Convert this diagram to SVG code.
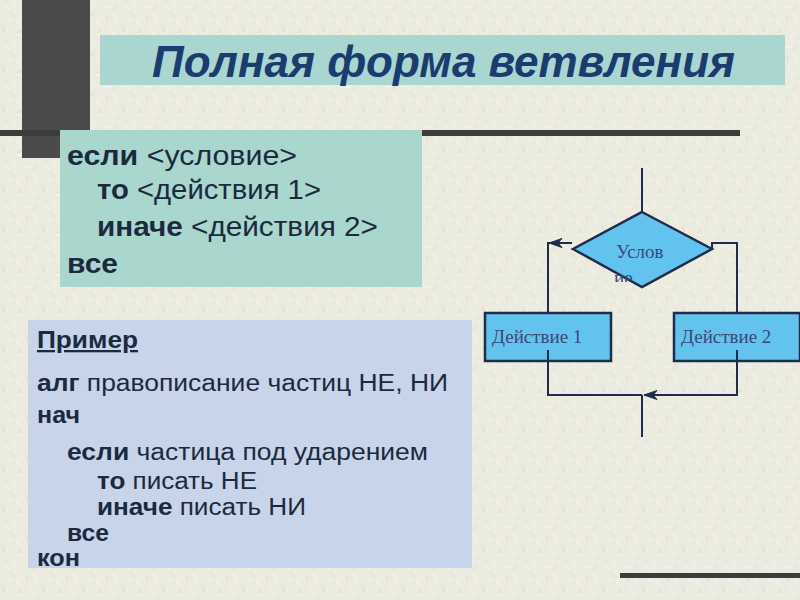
<svg xmlns="http://www.w3.org/2000/svg" width="800" height="600" viewBox="0 0 800 600">
<defs>
<pattern id="tex" width="40" height="40" patternUnits="userSpaceOnUse">
<rect width="40" height="40" fill="#ECEBDF"/>
<g stroke="#F8F8F2" stroke-width="1">
<path d="M3 5l6 4M15 2l-3 7M25 8l8-2M34 14l3 7M6 20l7 1M20 18l-4 6M28 26l6 5M5 33l4-6M16 34l7 2M30 36l6-4"/>
</g>
<g stroke="#DCDACB" stroke-width="1">
<path d="M10 13l5 3M22 30l-5 3M36 4l-4 5M2 26l3 6M26 15l2 6"/>
</g>
</pattern>
<marker id="arr" markerWidth="16" markerHeight="12" refX="14" refY="6" orient="auto" markerUnits="userSpaceOnUse">
<path d="M1 1.5L14 6L1 10.5L5 6Z" fill="#1F2D4A" stroke="#1F2D4A" stroke-width="1" stroke-linejoin="round"/>
</marker>
<clipPath id="cut"><rect x="600" y="262" width="60" height="20"/></clipPath>
<style>
.kw{font-family:"Liberation Sans",Arial,sans-serif;font-weight:bold;fill:#1B2A3E}
.n{font-weight:normal}
.a{font-size:27px}
.b{font-size:23px}
.shape{fill:#62C3EE;stroke:#1F2D4A;stroke-width:2.5}
.lbl{font-family:"Liberation Serif","Times New Roman",serif;font-size:19px;fill:#3A4A7A}
.con{fill:none;stroke:#1F2D4A;stroke-width:2}
</style>
</defs>
<rect width="800" height="600" fill="url(#tex)"/>
<rect x="22" y="0" width="68" height="158" fill="#4A4A4A"/>
<rect x="0" y="130" width="740" height="6" fill="#3C3C3C"/>
<rect x="620" y="573" width="180" height="5" fill="#3C3C3C"/>

<g id="title">
<rect x="100" y="35" width="685" height="50" fill="#A9D6D0"/>
<text x="152" y="77" textLength="583" lengthAdjust="spacingAndGlyphs" font-family="Liberation Sans,Arial,sans-serif" font-weight="bold" font-style="italic" font-size="44" fill="#1A3C6E">Полная форма ветвления</text>
</g>

<g id="syntax">
<rect x="60" y="130" width="362" height="157" fill="#A9D6CD"/>
<text class="kw a" x="67" y="165" textLength="230" lengthAdjust="spacingAndGlyphs">если <tspan class="n">&lt;условие&gt;</tspan></text>
<text class="kw a" x="97" y="199" textLength="224" lengthAdjust="spacingAndGlyphs">то <tspan class="n">&lt;действия 1&gt;</tspan></text>
<text class="kw a" x="97" y="236" textLength="281" lengthAdjust="spacingAndGlyphs">иначе <tspan class="n">&lt;действия 2&gt;</tspan></text>
<text class="kw a" x="67" y="273" textLength="51" lengthAdjust="spacingAndGlyphs">все</text>
</g>

<g id="example">
<rect x="28" y="320" width="444" height="248" fill="#C7D4E9"/>
<text class="kw b" x="37" y="348" textLength="101" lengthAdjust="spacingAndGlyphs" text-decoration="underline">Пример</text>
<text class="kw b" x="37" y="391" textLength="411" lengthAdjust="spacingAndGlyphs">алг <tspan class="n">правописание частиц НЕ, НИ</tspan></text>
<text class="kw b" x="37" y="423" textLength="43" lengthAdjust="spacingAndGlyphs">нач</text>
<text class="kw b" x="67" y="460" textLength="361" lengthAdjust="spacingAndGlyphs">если <tspan class="n">частица под ударением</tspan></text>
<text class="kw b" x="97" y="489" textLength="160" lengthAdjust="spacingAndGlyphs">то <tspan class="n">писать НЕ</tspan></text>
<text class="kw b" x="97" y="515" textLength="209" lengthAdjust="spacingAndGlyphs">иначе <tspan class="n">писать НИ</tspan></text>
<text class="kw b" x="67" y="541" textLength="42" lengthAdjust="spacingAndGlyphs">все</text>
<text class="kw b" x="37" y="566" textLength="43" lengthAdjust="spacingAndGlyphs">кон</text>
</g>

<g id="connectors">
<path class="con" d="M642 168V212"/>
<path class="con" d="M548 313V243H572"/>
<path class="con" d="M570 243H549" marker-end="url(#arr)"/>
<path class="con" d="M712 249V243H737V313"/>
<path class="con" d="M548 350V395H642"/>
<path class="con" d="M737 350V395H644" marker-end="url(#arr)"/>
<path class="con" d="M642 395V437"/>
</g>

<g id="condition">
<polygon class="shape" points="642,212 712,249 642,287 573,249"/>
<text class="lbl" x="616" y="258">Услов</text>
<text class="lbl" x="614" y="284" clip-path="url(#cut)">ие</text>
</g>

<g id="action1">
<rect class="shape" x="485" y="313" width="126" height="48"/>
<text class="lbl" x="492" y="343">Действие 1</text>
</g>

<g id="action2">
<rect class="shape" x="674" y="313" width="126" height="48"/>
<text class="lbl" x="681" y="343">Действие 2</text>
</g>
<path class="con" d="M548 350V361M737 350V361"/>
</svg>
